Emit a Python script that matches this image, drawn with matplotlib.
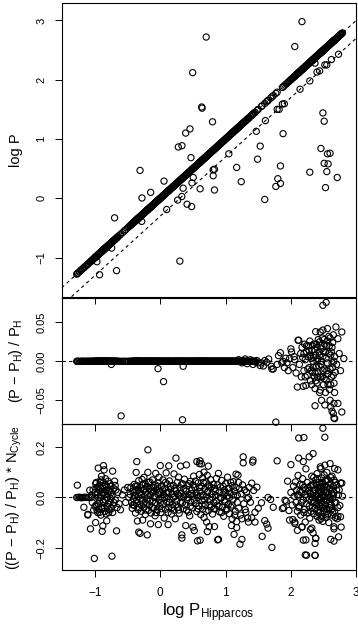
import matplotlib
matplotlib.use('Agg')
import matplotlib.pyplot as plt
import numpy as np

plt.rcParams['font.family'] = ['Liberation Sans', 'DejaVu Sans']
plt.rcParams['mathtext.fontset'] = 'custom'
plt.rcParams['mathtext.rm'] = 'Liberation Sans'
plt.rcParams['mathtext.it'] = 'Liberation Sans:italic'

# stars: (log P_Hipparcos, ((P - P_H) / P_H) * N_cycle)
short_pts = [
    (-1.28, 0.0), (-1.27, 0.049), (-1.26, 0.0), (-1.24, 0.001), (-1.22, 0.0), (-1.21, -0.001),
    (-1.19, 0.0), (-1.17, 0.0), (-1.17, -0.039), (-1.15, 0.001), (-1.13, 0.0), (-1.11, -0.067),
    (-1.11, -0.07), (-1.10, 0.0), (-1.08, 0.029), (-1.07, -0.125), (-1.06, 0.0), (-1.05, 0.01),
    (-1.04, -0.02), (-1.03, 0.03), (-1.02, -0.05), (-1.01, -0.243), (-1.00, 0.02), (-0.99, -0.10),
    (-0.99, 0.055), (-0.98, -0.03), (-0.97, 0.04), (-0.96, -0.06), (-0.95, 0.117), (-0.95, 0.0),
    (-0.94, -0.045), (-0.93, 0.03), (-0.93, -0.015), (-0.92, 0.06), (-0.91, 0.07), (-0.91, -0.07),
    (-0.90, 0.085), (-0.90, 0.01), (-0.89, -0.135), (-0.89, -0.04), (-0.88, -0.113), (-0.88, 0.045),
    (-0.87, 0.127), (-0.87, -0.02), (-0.86, 0.11), (-0.86, 0.02), (-0.85, -0.055), (-0.84, 0.05),
    (-0.84, -0.01), (-0.83, 0.03), (-0.82, -0.093), (-0.82, 0.0), (-0.81, -0.035), (-0.80, 0.065),
    (-0.80, 0.015), (-0.79, -0.06), (-0.78, 0.025), (-0.77, -0.02), (-0.76, 0.045), (-0.75, -0.045),
    (-0.74, -0.234), (-0.74, 0.005), (-0.73, 0.105), (-0.72, -0.03), (-0.71, 0.035), (-0.70, 0.065),
    (-0.69, 0.048), (-0.69, -0.01), (-0.67, -0.133), (-0.66, 0.306), (-0.65, 0.02), (-0.63, -0.025),
    (-0.61, -0.049), (-0.58, 0.01), (-0.55, 0.03), (-0.53, -0.02), (-0.50, 0.04), (-0.48, 0.0),
    (-1.00, -0.035), (-0.99, 0.01), (-0.98, 0.06), (-0.97, -0.05), (-0.96, 0.02), (-0.95, -0.025),
    (-0.94, 0.045), (-0.93, -0.06), (-0.92, 0.0), (-0.91, 0.035), (-0.90, -0.045), (-0.89, 0.02),
    (-0.88, -0.015), (-0.87, 0.06), (-0.86, -0.04), (-0.85, 0.01), (-0.84, 0.075), (-0.83, -0.065),
    (-0.82, 0.045), (-0.81, 0.0), (-0.80, -0.025), (-0.79, 0.03), (-0.78, -0.05), (-0.77, 0.055),
    (-0.76, -0.005), (-0.75, 0.02), (-0.73, -0.06), (-0.71, -0.02), (-0.68, 0.03), (-0.66, -0.04),
]

mid_pts = [
    (-0.46, 0.012), (-0.45, 0.041), (-0.44, -0.018), (-0.43, -0.043), (-0.42, 0.025), (-0.41, -0.005),
    (-0.40, 0.052), (-0.40, -0.031), (-0.39, 0.008), (-0.38, -0.062), (-0.37, 0.100), (-0.37, 0.030),
    (-0.36, 0.143), (-0.36, -0.021), (-0.35, -0.094), (-0.35, 0.046), (-0.34, 0.004), (-0.34, -0.048),
    (-0.33, -0.138), (-0.33, 0.067), (-0.32, 0.018), (-0.31, -0.143), (-0.31, -0.027), (-0.30, 0.038),
    (-0.29, -0.055), (-0.29, 0.011), (-0.28, 0.072), (-0.27, -0.090), (-0.27, -0.012), (-0.26, 0.029),
    (-0.25, 0.080), (-0.25, -0.040), (-0.24, 0.003), (-0.23, 0.055), (-0.23, -0.068), (-0.22, 0.021),
    (-0.21, -0.024), (-0.20, -0.149), (-0.20, 0.044), (-0.19, 0.190), (-0.19, 0.100), (-0.19, -0.006),
    (-0.18, -0.051), (-0.17, 0.033), (-0.16, 0.062), (-0.16, -0.030), (-0.15, -0.105), (-0.15, 0.009),
    (-0.14, -0.062), (-0.13, 0.040), (-0.12, -0.015), (-0.12, 0.070), (-0.11, 0.022), (-0.10, -0.044),
    (-0.09, 0.005), (-0.08, 0.051), (-0.08, -0.073), (-0.07, 0.096), (-0.07, -0.020), (-0.06, 0.030),
    (-0.05, -0.048), (-0.04, 0.014), (-0.03, -0.108), (-0.03, 0.058), (-0.02, 0.081), (-0.02, -0.009),
    (-0.01, -0.036), (0.00, 0.127), (0.00, 0.025), (0.01, -0.060), (0.02, 0.045), (0.03, -0.004),
    (0.04, 0.070), (0.04, -0.028), (0.05, 0.012), (0.06, -0.082), (0.07, 0.036), (0.08, -0.047),
    (0.09, 0.098), (0.09, 0.001), (0.10, -0.018), (0.11, 0.053), (0.12, -0.108), (0.12, 0.020),
    (0.13, 0.126), (0.13, -0.039), (0.14, 0.066), (0.15, -0.007), (0.16, 0.034), (0.17, -0.066),
    (0.18, 0.015), (0.19, -0.029), (0.20, 0.048), (0.21, 0.094), (0.21, -0.051), (0.22, 0.004),
    (0.23, -0.085), (0.24, 0.157), (0.24, 0.027), (0.25, -0.014), (0.26, 0.060), (0.27, -0.040),
    (0.28, 0.081), (0.28, 0.010), (0.29, -0.063), (0.30, 0.039), (0.31, 0.125), (0.31, -0.022),
    (0.32, 0.017), (0.33, -0.149), (0.33, -0.162), (0.34, 0.055), (0.35, -0.045), (0.36, 0.002),
    (0.37, 0.073), (0.38, -0.030), (0.39, -0.112), (0.40, 0.130), (0.40, 0.026), (0.41, -0.008),
    (0.42, 0.047), (0.43, -0.058), (0.44, 0.012), (0.45, -0.073), (0.46, 0.064), (0.47, -0.019),
    (0.48, 0.031), (0.49, -0.041), (0.50, -0.118), (0.50, 0.006), (0.51, 0.085), (0.52, -0.132),
    (0.53, 0.040), (0.54, -0.025), (0.55, 0.019), (0.56, 0.143), (0.56, -0.056), (0.57, -0.173),
    (0.58, 0.058), (0.58, 0.000), (0.59, -0.034), (0.60, 0.135), (0.60, 0.092), (0.61, 0.146),
    (0.61, -0.170), (0.61, 0.024), (0.62, -0.068), (0.63, 0.134), (0.63, 0.045), (0.64, -0.012),
    (0.65, 0.078), (0.65, -0.047), (0.66, 0.010), (0.67, 0.101), (0.67, -0.080), (0.68, 0.033),
    (0.69, -0.028), (0.70, 0.062), (0.70, 0.002), (0.71, -0.098), (0.72, -0.136), (0.72, 0.088),
    (0.73, 0.025), (0.735, 0.125), (0.74, -0.052), (0.75, -0.116), (0.75, 0.043), (0.76, -0.009),
    (0.77, 0.071), (0.78, -0.038), (0.79, 0.015), (0.80, -0.066), (0.81, 0.052), (0.82, -0.020),
    (0.83, -0.116), (0.83, 0.036), (0.84, -0.045), (0.85, 0.008), (0.86, 0.076), (0.87, -0.031),
    (0.88, -0.169), (0.89, 0.096), (0.89, -0.167), (0.90, 0.021), (0.91, -0.058), (0.92, 0.042),
    (0.93, -0.004), (0.94, 0.068), (0.95, -0.039), (0.96, 0.013), (0.97, -0.075), (0.98, 0.030),
    (0.99, -0.017), (1.00, 0.055), (1.01, -0.050), (1.02, 0.005), (1.03, 0.081), (1.04, -0.028),
    (1.05, 0.037), (1.06, -0.065), (1.07, 0.018), (1.08, -0.038), (1.09, -0.112), (1.10, -0.085),
    (1.10, 0.047), (1.11, -0.010), (1.12, 0.063), (1.13, -0.147), (1.14, 0.025), (1.15, -0.055),
    (1.16, 0.093), (1.17, -0.096), (1.17, -0.120), (1.18, 0.008), (1.19, 0.089), (1.20, -0.042),
    (1.21, 0.035), (1.22, -0.186), (1.23, -0.070), (1.24, 0.015), (1.25, -0.085), (1.25, -0.167),
    (1.26, 0.050), (1.27, 0.138), (1.27, 0.162), (1.28, -0.025), (1.29, 0.030), (1.30, -0.048),
    (1.31, -0.059), (1.32, 0.022), (1.33, -0.005), (1.34, -0.082), (1.35, 0.000), (1.35, -0.098),
    (1.36, 0.040), (1.38, -0.019), (1.40, 0.057), (1.40, -0.081), (1.415, 0.141), (1.42, 0.149),
    (1.43, 0.028), (1.45, -0.059), (1.45, -0.098),
    (-0.42, -0.03), (-0.40, 0.02), (-0.38, 0.045), (-0.36, -0.01), (-0.34, 0.03), (-0.32, -0.04),
    (-0.30, -0.005), (-0.28, 0.05), (-0.26, -0.025), (-0.24, 0.035), (-0.22, -0.05), (-0.20, 0.01),
    (-0.18, 0.06), (-0.16, -0.015), (-0.14, 0.025), (-0.12, -0.04), (-0.10, 0.04), (-0.08, 0.0),
    (-0.06, -0.06), (-0.04, 0.045), (-0.02, 0.02), (0.00, -0.02), (0.02, -0.045), (0.04, 0.03),
    (0.06, 0.0), (0.08, 0.06), (0.10, 0.02), (0.12, -0.06), (0.14, -0.02), (0.16, 0.045),
    (0.18, -0.04), (0.20, 0.0), (0.22, 0.035), (0.24, -0.03), (0.26, 0.015), (0.28, -0.05),
    (0.30, 0.005), (0.32, 0.05), (0.34, -0.02), (0.36, 0.035), (0.38, 0.01), (0.40, -0.05),
    (0.42, 0.0), (0.44, 0.055), (0.46, -0.035), (0.48, 0.015), (0.50, 0.05), (0.52, -0.01),
    (0.54, 0.065), (0.56, 0.01), (0.58, -0.045), (0.60, 0.04), (0.62, 0.005), (0.64, -0.03),
    (0.66, 0.06), (0.68, -0.01), (0.70, -0.055), (0.72, 0.02), (0.74, 0.05), (0.76, -0.03),
    (0.78, 0.04), (0.80, 0.0), (0.82, -0.045), (0.84, 0.025), (0.86, -0.015), (0.88, 0.05),
    (0.90, -0.035), (0.92, 0.0), (0.94, -0.06), (0.96, 0.045), (0.98, -0.01), (1.00, 0.02),
    (1.02, -0.045), (1.04, 0.035), (1.06, 0.0), (1.08, 0.06), (1.10, -0.03), (1.12, 0.01),
    (1.14, -0.07), (1.16, 0.04), (1.18, -0.02), (1.20, 0.06),
]

gap_pts = [
    (1.48, 0.041), (1.50, -0.043), (1.55, -0.021), (1.56, -0.155), (1.60, -0.092), (1.63, -0.106),
    (1.65, 0.000), (1.65, -0.122), (1.69, -0.008), (1.71, -0.199), (1.73, -0.039), (1.77, 0.300),
    (1.79, 0.146), (1.87, -0.044), (1.89, -0.041), (1.91, -0.011), (1.93, -0.015),
]

long_pts = [
    (1.95, 0.065), (1.97, -0.052), (1.98, -0.090), (2.00, 0.131), (2.00, 0.020), (2.02, -0.030),
    (2.03, -0.088), (2.04, 0.045), (2.05, 0.005), (2.06, -0.098), (2.06, -0.104), (2.07, 0.062),
    (2.08, -0.020), (2.09, 0.030), (2.10, -0.131), (2.10, -0.055), (2.11, 0.088), (2.12, 0.157),
    (2.12, 0.237), (2.12, 0.010), (2.13, -0.035), (2.14, 0.052), (2.15, -0.070), (2.16, 0.020),
    (2.17, -0.118), (2.17, -0.117), (2.18, 0.075), (2.19, 0.143), (2.19, -0.170), (2.19, -0.010),
    (2.20, 0.239), (2.20, 0.040), (2.21, -0.048), (2.22, -0.098), (2.22, -0.229), (2.22, 0.012),
    (2.23, 0.114), (2.23, -0.169), (2.24, -0.230), (2.24, -0.025), (2.25, 0.060), (2.26, -0.062),
    (2.27, 0.028), (2.28, 0.162), (2.28, -0.008), (2.29, -0.082), (2.30, -0.128), (2.30, 0.045),
    (2.31, 0.003), (2.32, -0.122), (2.32, 0.085), (2.33, -0.040), (2.34, 0.175), (2.34, -0.141),
    (2.34, 0.018), (2.35, -0.065), (2.35, 0.050), (2.36, -0.015), (2.37, -0.183), (2.37, -0.231),
    (2.37, -0.230), (2.37, 0.032), (2.38, -0.162), (2.38, -0.163), (2.38, 0.070), (2.39, -0.030),
    (2.39, 0.008), (2.40, -0.075), (2.40, 0.095), (2.41, 0.040), (2.41, -0.050), (2.42, 0.015),
    (2.42, -0.010), (2.43, 0.060), (2.43, -0.090), (2.44, 0.025), (2.44, -0.035), (2.45, 0.122),
    (2.45, 0.000), (2.45, -0.060), (2.46, 0.115), (2.46, 0.045), (2.46, -0.020), (2.47, 0.078),
    (2.47, -0.075), (2.48, 0.010), (2.48, -0.042), (2.49, 0.276), (2.49, 0.055), (2.49, -0.095),
    (2.50, 0.030), (2.50, -0.015), (2.51, 0.090), (2.51, -0.060), (2.52, 0.240), (2.52, 0.129),
    (2.52, 0.005), (2.53, -0.030), (2.53, 0.065), (2.54, -0.080), (2.54, 0.020), (2.55, 0.100),
    (2.55, -0.045), (2.56, 0.040), (2.56, -0.010), (2.57, -0.065), (2.57, 0.070), (2.58, 0.000),
    (2.58, -0.100), (2.59, 0.035), (2.60, 0.135), (2.60, -0.030), (2.61, -0.167), (2.61, 0.055),
    (2.62, -0.070), (2.62, 0.015), (2.63, 0.085), (2.63, -0.045), (2.64, -0.005), (2.65, 0.310),
    (2.65, 0.045), (2.66, -0.117), (2.66, -0.125), (2.66, -0.174), (2.66, 0.020), (2.67, 0.115),
    (2.67, -0.055), (2.68, 0.060), (2.69, -0.020), (2.70, 0.030), (2.71, -0.085), (2.72, 0.110),
    (2.72, -0.075), (2.73, -0.157), (2.73, 0.010), (2.75, -0.032), (2.76, 0.058), (2.76, -0.077),
    (2.77, -0.118), (2.78, 0.057), (2.79, 0.005),
    (2.10, 0.01), (2.12, -0.04), (2.14, 0.025), (2.16, -0.02), (2.18, 0.05), (2.20, -0.06),
    (2.22, 0.03), (2.24, 0.0), (2.26, 0.04), (2.28, -0.035), (2.30, 0.015), (2.31, -0.055),
    (2.32, 0.05), (2.33, 0.0), (2.34, -0.02), (2.35, 0.08), (2.36, 0.03), (2.37, -0.045),
    (2.38, 0.0), (2.39, 0.05), (2.40, -0.02), (2.41, 0.075), (2.42, -0.06), (2.43, 0.03),
    (2.44, -0.005), (2.45, 0.04), (2.46, -0.085), (2.47, 0.02), (2.48, 0.06), (2.49, -0.03),
    (2.50, 0.005), (2.51, -0.045), (2.52, 0.045), (2.53, -0.01), (2.54, 0.07), (2.55, 0.02),
    (2.56, -0.07), (2.57, 0.01), (2.58, 0.05), (2.59, -0.04), (2.60, 0.0), (2.61, 0.08),
    (2.62, -0.03), (2.63, 0.03), (2.64, -0.06), (2.65, 0.01), (2.66, 0.07), (2.67, -0.02),
    (2.68, -0.08), (2.70, 0.05), (2.72, -0.04), (2.74, 0.03),
]

# stars whose period disagrees with Hipparcos: (log P_H, log P)
off_pts = [
    (0.703, 2.72), (0.496, 2.12), (0.634, 1.54), (0.64, 1.52), (0.455, 1.17), (0.389, 1.10),
    (0.276, 0.865), (0.332, 0.887), (2.17, 2.98), (2.06, 2.56), (2.73, 2.43), (2.62, 2.34),
    (2.52, 2.25), (2.55, 2.25), (2.44, 2.15), (2.40, 2.13), (2.37, 2.28), (2.29, 1.98), (2.14, 1.84),
    (1.90, 1.595), (1.87, 1.59), (1.82, 1.50), (1.79, 1.50), (1.61, 1.31), (1.47, 1.13), (1.05, 0.75),
    (0.098, -0.19), (0.80, 1.29), (0.47, 0.685), (1.53, 0.88), (1.49, 0.66), (1.88, 1.09),
    (1.17, 0.52), (1.24, 0.28), (1.84, 0.545), (1.80, 0.33), (1.84, 0.25), (1.77, 0.20),
    (1.60, -0.02), (2.29, 0.44), (2.46, 0.84), (2.56, 0.75), (2.60, 0.76), (2.51, 0.59),
    (2.57, 0.58), (2.55, 0.45), (2.71, 0.35), (2.53, 0.18), (2.49, 1.44), (2.51, 1.30),
    (0.81, 0.48), (0.83, 0.49), (0.81, 0.38), (0.83, 0.14), (0.61, 0.16), (0.505, 0.35),
    (0.485, 0.26), (0.35, 0.17), (0.33, 0.03), (0.41, -0.10), (0.48, -0.14), (0.30, -1.06),
    (-0.31, 0.47), (0.057, 0.29), (-0.147, 0.10), (-0.28, 0.005), (-0.70, -0.33), (-0.285, -0.39),
    (0.266, -0.03), (-0.745, -0.84), (-0.97, -1.07), (-0.93, -1.29), (-0.67, -1.22),
]

# relative residuals (P - P_H) / P_H that stand off zero
rel_pts = [
    (-0.75, -0.004), (-0.60, -0.070), (-0.035, -0.0094), (0.05, -0.026), (0.34, -0.075),
    (0.35, -0.0064), (1.20, 0.002), (1.25, -0.002), (1.30, 0.003), (1.33, -0.003), (1.38, 0.002),
    (1.42, -0.004), (1.46, -0.001), (1.48, 0.001), (1.50, -0.002), (1.53, -0.0055), (1.55, -0.002),
    (1.58, -0.006), (1.60, 0.001), (1.63, -0.0013), (1.66, 0.003), (1.70, -0.0064), (1.71, -0.0099),
    (1.73, -0.0098), (1.77, -0.078), (1.79, -0.004), (1.81, 0.0073), (1.84, 0.011), (1.86, -0.002),
    (1.88, 0.0), (1.90, -0.008), (1.92, 0.004), (1.94, -0.002), (1.96, -0.012), (1.98, 0.0035),
    (2.00, 0.016), (2.01, 0.012), (2.03, -0.008), (2.05, 0.006), (2.06, 0.002), (2.08, -0.015),
    (2.10, -0.033), (2.11, 0.027), (2.12, 0.027), (2.13, -0.004), (2.15, 0.010), (2.16, -0.020),
    (2.17, 0.018), (2.18, 0.005), (2.19, -0.032), (2.20, -0.012), (2.21, 0.022), (2.22, 0.002),
    (2.23, -0.031), (2.24, 0.012), (2.25, -0.018), (2.26, 0.006), (2.27, 0.020), (2.28, -0.008),
    (2.29, 0.026), (2.30, -0.025), (2.31, 0.004), (2.32, 0.014), (2.33, -0.014), (2.34, 0.000),
    (2.35, 0.022), (2.36, -0.020), (2.37, -0.057), (2.37, -0.035), (2.38, 0.038), (2.38, 0.008),
    (2.39, -0.006), (2.40, 0.018), (2.40, -0.028), (2.41, 0.003), (2.42, -0.015), (2.43, 0.012),
    (2.44, -0.040), (2.44, 0.025), (2.45, 0.0376), (2.45, -0.037), (2.46, -0.004), (2.47, -0.050),
    (2.47, 0.016), (2.48, -0.020), (2.49, 0.0718), (2.49, 0.040), (2.49, 0.006), (2.49, -0.086),
    (2.50, -0.030), (2.51, 0.028), (2.52, -0.056), (2.52, -0.010), (2.53, 0.012), (2.54, 0.0756),
    (2.54, -0.024), (2.55, 0.020), (2.56, 0.042), (2.56, -0.002), (2.57, -0.016), (2.58, 0.032),
    (2.59, -0.036), (2.60, 0.030), (2.60, -0.050), (2.61, -0.0586), (2.61, 0.008), (2.62, -0.020),
    (2.63, -0.064), (2.63, 0.018), (2.64, -0.008), (2.65, 0.034), (2.65, -0.067), (2.66, -0.054),
    (2.66, -0.0727), (2.66, -0.028), (2.67, -0.0735), (2.67, 0.006), (2.68, -0.014), (2.69, 0.044),
    (2.70, -0.004), (2.72, 0.029), (2.72, -0.054), (2.74, 0.010), (2.76, -0.012), (2.78, 0.0376),
    (2.78, -0.065), (2.81, 0.0035),
    (2.30, 0.008), (2.31, -0.012), (2.32, -0.03), (2.33, 0.02), (2.34, -0.008), (2.35, 0.005),
    (2.36, 0.015), (2.37, -0.015), (2.38, -0.025), (2.39, 0.022), (2.40, 0.0), (2.41, -0.02),
    (2.42, 0.028), (2.43, -0.006), (2.44, 0.008), (2.45, -0.02), (2.46, 0.02), (2.47, 0.0),
    (2.48, 0.03), (2.49, -0.012), (2.50, 0.012), (2.51, -0.022), (2.52, 0.022), (2.53, -0.04),
    (2.54, 0.004), (2.55, -0.012), (2.56, 0.026), (2.57, -0.03), (2.58, 0.01), (2.59, 0.02),
    (2.60, -0.01), (2.61, -0.03), (2.62, 0.012), (2.63, -0.002), (2.64, 0.024), (2.65, -0.018),
    (2.66, 0.0), (2.67, -0.04), (2.20, 0.01), (2.22, -0.02), (2.24, 0.02), (2.26, -0.01),
    (2.28, 0.014),
]

x_ticks = [-1, 0, 1, 2, 3]
x_labels = ['\u22121', '0', '1', '2', '3']
top_ticks = [-1, 0, 1, 2, 3]
top_labels = ['\u22121', '0', '1', '2', '3']
mid_ticks = [-0.05, 0.0, 0.05]
mid_labels = ['\u22120.05', '0.00', '0.05']
bot_ticks = [-0.2, 0.0, 0.2]
bot_labels = ['\u22120.2', '0.0', '0.2']

stars = np.array(short_pts + mid_pts + gap_pts + long_pts)
short_stars = np.array(short_pts + mid_pts)
off = np.array(off_pts)
rel = np.array(rel_pts)

fig = plt.figure(figsize=(3.58, 6.25), dpi=100)
ax3 = fig.add_axes([0.1723, 0.0880, 0.8226, 0.2331], facecolor='none')
ax2 = fig.add_axes([0.1723, 0.3216, 0.8226, 0.2016], facecolor='none')
ax1 = fig.add_axes([0.1723, 0.5253, 0.8226, 0.4695], facecolor='none')

mk = dict(s=20, facecolors='none', edgecolors='black', linewidths=0.8)
dash = dict(color='black', lw=0.8, linestyle=(0, (3, 3)))

# top: log P vs log P_H
ax1.scatter(stars[:, 0], stars[:, 0], **mk)
ax1.scatter(off[:, 0], off[:, 1], **mk)
ax1.axline((0, 0), slope=1, **dash)
ax1.axline((0, np.log10(0.5)), slope=1, **dash)
ax1.set_ylim(-1.66, 3.29)
ax1.set_yticks(top_ticks)
ax1.set_yticklabels(top_labels)

# middle: relative residual
ax2.scatter(short_stars[:, 0], np.zeros(len(short_stars)), **mk)
ax2.scatter(rel[:, 0], rel[:, 1], **mk)
ax2.axhline(0, **dash)
ax2.set_ylim(-0.0804, 0.0812)
ax2.set_yticks(mid_ticks)
ax2.set_yticklabels(mid_labels)

# bottom: residual times number of cycles
ax3.scatter(stars[:, 0], stars[:, 1], **mk)
ax3.axhline(0, **dash)
ax3.set_ylim(-0.289, 0.2916)
ax3.set_yticks(bot_ticks)
ax3.set_yticklabels(bot_labels)

for ax in (ax1, ax2, ax3):
    ax.set_xlim(-1.51, 3.0)
    ax.set_xticks(x_ticks)
    ax.tick_params(direction='out', length=5, width=0.7, pad=6, labelsize=8)
    ax.tick_params(axis='x', pad=7)
    for lab in ax.get_yticklabels():
        lab.set_rotation(90)
        lab.set_va('center')
    for sp in ax.spines.values():
        sp.set_linewidth(0.8)

ax1.tick_params(axis='x', labelbottom=False)
ax2.tick_params(axis='x', labelbottom=False)
ax3.set_xticklabels(x_labels)
ax3.tick_params(axis='x', labelsize=8.5)

fig.text(0.045, 0.760, 'log P', rotation=90, ha='center', va='center', fontsize=10.5)
fig.text(0.045, 0.4224, '(P \u2212 P$_{\\mathrm{H}}$) / P$_{\\mathrm{H}}$',
         rotation=90, ha='center', va='center', fontsize=10.5)
fig.text(0.040, 0.2046, '((P \u2212 P$_{\\mathrm{H}}$) / P$_{\\mathrm{H}}$) * N$_{\\mathrm{Cycle}}$',
         rotation=90, ha='center', va='center', fontsize=10.5)
fig.text(208 / 358, 9 / 625, 'log P$_{\\mathrm{Hipparcos}}$', ha='center', va='baseline',
         fontsize=12)

fig.savefig('out.png', dpi=100)
